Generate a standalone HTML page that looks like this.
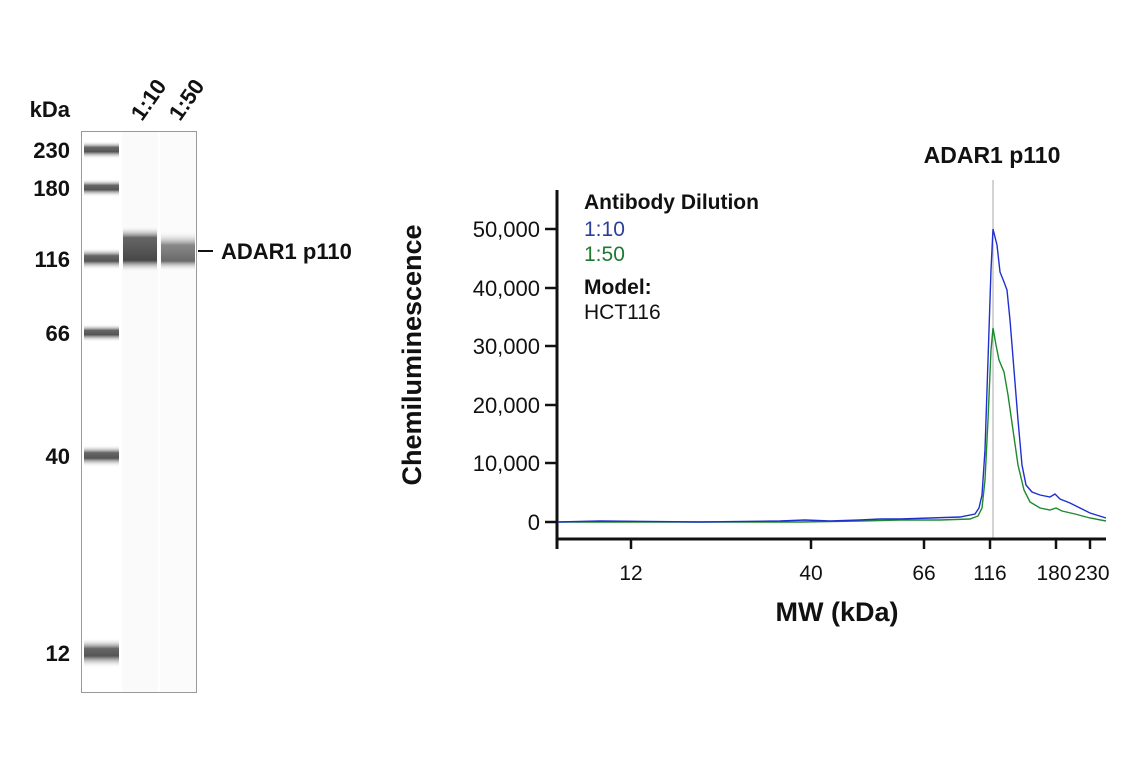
<!DOCTYPE html>
<html><head><meta charset="utf-8"><style>
body{margin:0;background:#fff;}
svg text{font-family:"Liberation Sans Narrow","Liberation Sans",sans-serif;}
</style></head><body>
<svg width="1141" height="768" viewBox="0 0 1141 768" xmlns="http://www.w3.org/2000/svg">
<defs>
<linearGradient id="b" x1="0" y1="0" x2="0" y2="1">
<stop offset="0" stop-color="#fff" stop-opacity="0"/><stop offset="0.35" stop-color="#666"/><stop offset="0.6" stop-color="#555"/><stop offset="1" stop-color="#fff" stop-opacity="0"/></linearGradient>
<linearGradient id="l1" x1="0" y1="0" x2="0" y2="1">
<stop offset="0" stop-color="#fff" stop-opacity="0"/><stop offset="0.25" stop-color="#666"/><stop offset="0.75" stop-color="#484848"/><stop offset="1" stop-color="#fff" stop-opacity="0"/></linearGradient>
<linearGradient id="l2" x1="0" y1="0" x2="0" y2="1">
<stop offset="0" stop-color="#fff" stop-opacity="0"/><stop offset="0.35" stop-color="#888"/><stop offset="0.75" stop-color="#6a6a6a"/><stop offset="1" stop-color="#fff" stop-opacity="0"/></linearGradient>
</defs>
<rect x="81.5" y="131.5" width="115" height="561" fill="#fff" stroke="#999" stroke-width="1"/>
<rect x="122" y="132" width="36" height="560" fill="#fafafa"/>
<rect x="160" y="132" width="36" height="560" fill="#fbfbfb"/>
<g fill="url(#b)">
<rect x="84" y="141" width="35" height="18"/>
<rect x="84" y="179" width="35" height="18"/>
<rect x="84" y="248" width="35" height="22"/>
<rect x="84" y="324" width="35" height="18"/>
<rect x="84" y="445" width="35" height="22"/>
<rect x="84" y="638" width="35" height="30"/>
</g>
<rect x="123" y="226" width="34" height="46" fill="url(#l1)"/>
<rect x="161" y="231" width="34" height="40" fill="url(#l2)"/>
<g font-weight="bold" font-size="22" fill="#111" text-anchor="end">
<text x="70" y="117">kDa</text>
<text x="70" y="158">230</text>
<text x="70" y="196">180</text>
<text x="70" y="267">116</text>
<text x="70" y="341">66</text>
<text x="70" y="464">40</text>
<text x="70" y="661">12</text>
</g>
<g font-weight="bold" font-size="22" fill="#111">
<text transform="translate(142,122) rotate(-55)">1:10</text>
<text transform="translate(180,122) rotate(-55)">1:50</text>
<text x="221" y="259">ADAR1 p110</text>
</g>
<line x1="198" y1="251" x2="213" y2="251" stroke="#111" stroke-width="2"/>
<line x1="993" y1="180" x2="993" y2="540" stroke="#aaa" stroke-width="1"/>
<text x="992" y="163" font-weight="bold" font-size="23" fill="#111" text-anchor="middle">ADAR1 p110</text>
<g stroke="#111" stroke-width="3" fill="none">
<line x1="557" y1="190" x2="557" y2="549"/>
<line x1="556" y1="539" x2="1106" y2="539"/>
</g>
<g stroke="#111" stroke-width="2.5">
<line x1="545" y1="229" x2="556" y2="229"/>
<line x1="545" y1="288" x2="556" y2="288"/>
<line x1="545" y1="346" x2="556" y2="346"/>
<line x1="545" y1="405" x2="556" y2="405"/>
<line x1="545" y1="463" x2="556" y2="463"/>
<line x1="545" y1="522" x2="556" y2="522"/>
<line x1="631" y1="539" x2="631" y2="549"/>
<line x1="811" y1="539" x2="811" y2="549"/>
<line x1="924" y1="539" x2="924" y2="549"/>
<line x1="990" y1="539" x2="990" y2="549"/>
<line x1="1056" y1="539" x2="1056" y2="549"/>
<line x1="1090" y1="539" x2="1090" y2="549"/>
</g>
<g font-size="22" fill="#111" text-anchor="end">
<text x="540" y="237">50,000</text>
<text x="540" y="296">40,000</text>
<text x="540" y="354">30,000</text>
<text x="540" y="413">20,000</text>
<text x="540" y="471">10,000</text>
<text x="540" y="530">0</text>
</g>
<g font-size="21" fill="#111" text-anchor="middle">
<text x="631" y="580">12</text>
<text x="811" y="580">40</text>
<text x="924" y="580">66</text>
<text x="990" y="580">116</text>
<text x="1054" y="580">180</text>
<text x="1092" y="580">230</text>
</g>
<text x="837" y="621" font-weight="bold" font-size="27" fill="#111" text-anchor="middle">MW (kDa)</text>
<text transform="translate(421,355) rotate(-90)" font-weight="bold" font-size="27" fill="#111" text-anchor="middle">Chemiluminescence</text>
<g font-size="21">
<text x="584" y="209" font-weight="bold" fill="#111">Antibody Dilution</text>
<text x="584" y="236" fill="#2b3f9a">1:10</text>
<text x="584" y="261" fill="#1e7a33">1:50</text>
<text x="584" y="294" font-weight="bold" fill="#111">Model:</text>
<text x="584" y="319" fill="#111">HCT116</text>
</g>
<polyline fill="none" stroke="#1e8a2e" stroke-width="1.4" points="558,522 700,522 800,522 860,521 900,520 940,520 970,519 978,516 982,508 985,480 988,420 991,350 993,328 996,345 999,360 1004,372 1008,395 1013,430 1018,465 1024,490 1030,502 1040,508 1050,510 1056,508 1062,511 1075,514 1090,518 1106,521"/>
<polyline fill="none" stroke="#1f2fd0" stroke-width="1.4" points="558,522 600,521 700,522 780,521 805,520 830,521 860,520 880,519 900,519 930,518 960,517 975,514 979,508 982,495 985,450 988,360 991,270 993,229 997,245 1000,272 1004,282 1007,290 1010,320 1014,370 1018,420 1022,465 1026,485 1032,492 1040,495 1050,497 1055,494 1060,499 1070,503 1080,508 1090,513 1106,518"/>
</svg>
</body></html>
